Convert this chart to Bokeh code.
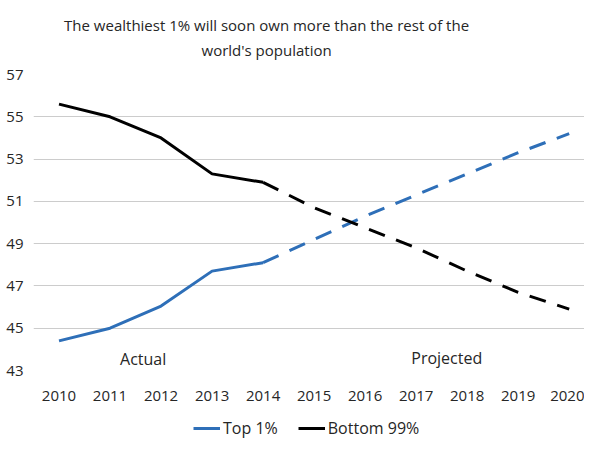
from bokeh.plotting import figure
from bokeh.layouts import column
from bokeh.models import (FixedTicker, Legend, LegendItem, Label, Range1d,
                          ColumnDataSource)
from bokeh.embed import file_html
from bokeh.resources import INLINE

years = [2010, 2011, 2012, 2013, 2014, 2015, 2016, 2017, 2018, 2019, 2020]
top1 = [44.4, 45.0, 46.05, 47.7, 48.1, 49.2, 50.3, 51.3, 52.3, 53.3, 54.2]
bottom99 = [55.6, 55.0, 54.0, 52.3, 51.9, 50.7, 49.75, 48.8, 47.7, 46.7, 45.9]
y_ticks = [43, 45, 47, 49, 51, 53, 55, 57]
last_actual = 2014
title_lines = ["The wealthiest 1% will soon own more than the rest of the",
               "world's population"]
series_names = ["Top 1%", "Bottom 99%"]

FONT = "Open Sans"
TXT = "#262626"
BLUE = "#2E6FB8"
BLACK = "#000000"

split = years.index(last_actual)
actual = ColumnDataSource(dict(x=years[:split + 1], top=top1[:split + 1],
                               bot=bottom99[:split + 1]))
proj = ColumnDataSource(dict(x=years[split:], top=top1[split:],
                             bot=bottom99[split:]))

# ---- title strip ----
head = figure(width=584, height=62, output_backend="svg", toolbar_location=None,
              min_border=0, x_range=Range1d(0, 1), y_range=Range1d(0, 1))
head.axis.visible = False
head.grid.visible = False
head.outline_line_color = None
for txt, ypos in zip(title_lines, [0.597, 0.194]):
    head.add_layout(Label(x=0.423, y=ypos, text=txt, text_align="center",
                          text_baseline="middle", text_font=FONT,
                          text_font_size="15px", text_color=TXT))

# ---- main chart ----
p = figure(frame_width=551, frame_height=296,
           x_range=Range1d(2009.5, 2020.3), y_range=Range1d(43, 57),
           output_backend="svg", toolbar_location=None,
           min_border_left=33, min_border_right=0, min_border_top=12,
           min_border_bottom=0)
p.outline_line_color = None
p.background_fill_color = "white"
p.border_fill_color = "white"

p.line("x", "top", source=actual, line_color=BLUE, line_width=3)
p.line("x", "top", source=proj, line_color=BLUE, line_width=3, line_dash="17 12")
p.line("x", "bot", source=actual, line_color=BLACK, line_width=3)
p.line("x", "bot", source=proj, line_color=BLACK, line_width=3, line_dash="17 12")

p.xaxis.ticker = FixedTicker(ticks=years)
p.yaxis.ticker = FixedTicker(ticks=y_ticks)
for ax in (p.xaxis[0], p.yaxis[0]):
    ax.axis_line_color = None
    ax.major_tick_line_color = None
    ax.minor_tick_line_color = None
    ax.major_tick_out = 0
    ax.major_tick_in = 0
    ax.major_label_text_font = FONT
    ax.major_label_text_font_size = "15px"
    ax.major_label_text_color = TXT
p.xaxis.major_label_standoff = 20
p.yaxis.major_label_standoff = 10

p.xgrid.grid_line_color = None
p.ygrid.grid_line_color = "#CCCCCC"
p.ygrid.grid_line_width = 1

p.add_layout(Label(x=2011.65, y=43.55, text="Actual", text_align="center",
                   text_baseline="middle", text_font=FONT,
                   text_font_size="16px", text_color=TXT))
p.add_layout(Label(x=2017.6, y=43.6, text="Projected", text_align="center",
                   text_baseline="middle", text_font=FONT,
                   text_font_size="16px", text_color=TXT))

# ---- legend strip (its lines fall outside this strip's ranges) ----
leg = figure(width=584, height=36, output_backend="svg", toolbar_location=None,
             min_border=0, x_range=Range1d(0, 1), y_range=Range1d(0, 1))
leg.axis.visible = False
leg.grid.visible = False
leg.outline_line_color = None
r_top = leg.line("x", "top", source=actual, line_color=BLUE, line_width=3)
r_bot = leg.line("x", "bot", source=actual, line_color=BLACK, line_width=3)
legend = Legend(items=[LegendItem(label=series_names[0], renderers=[r_top]),
                       LegendItem(label=series_names[1], renderers=[r_bot])],
                orientation="horizontal", location=(160, 0),
                label_text_font=FONT, label_text_font_size="16px",
                label_text_color=TXT, glyph_width=27, glyph_height=16,
                label_height=16, label_standoff=3,
                spacing=20, padding=2, margin=0, border_line_color=None,
                background_fill_alpha=0)
leg.add_layout(legend)

open("out.html", "w").write(file_html(column(head, p, leg, spacing=0), INLINE))
